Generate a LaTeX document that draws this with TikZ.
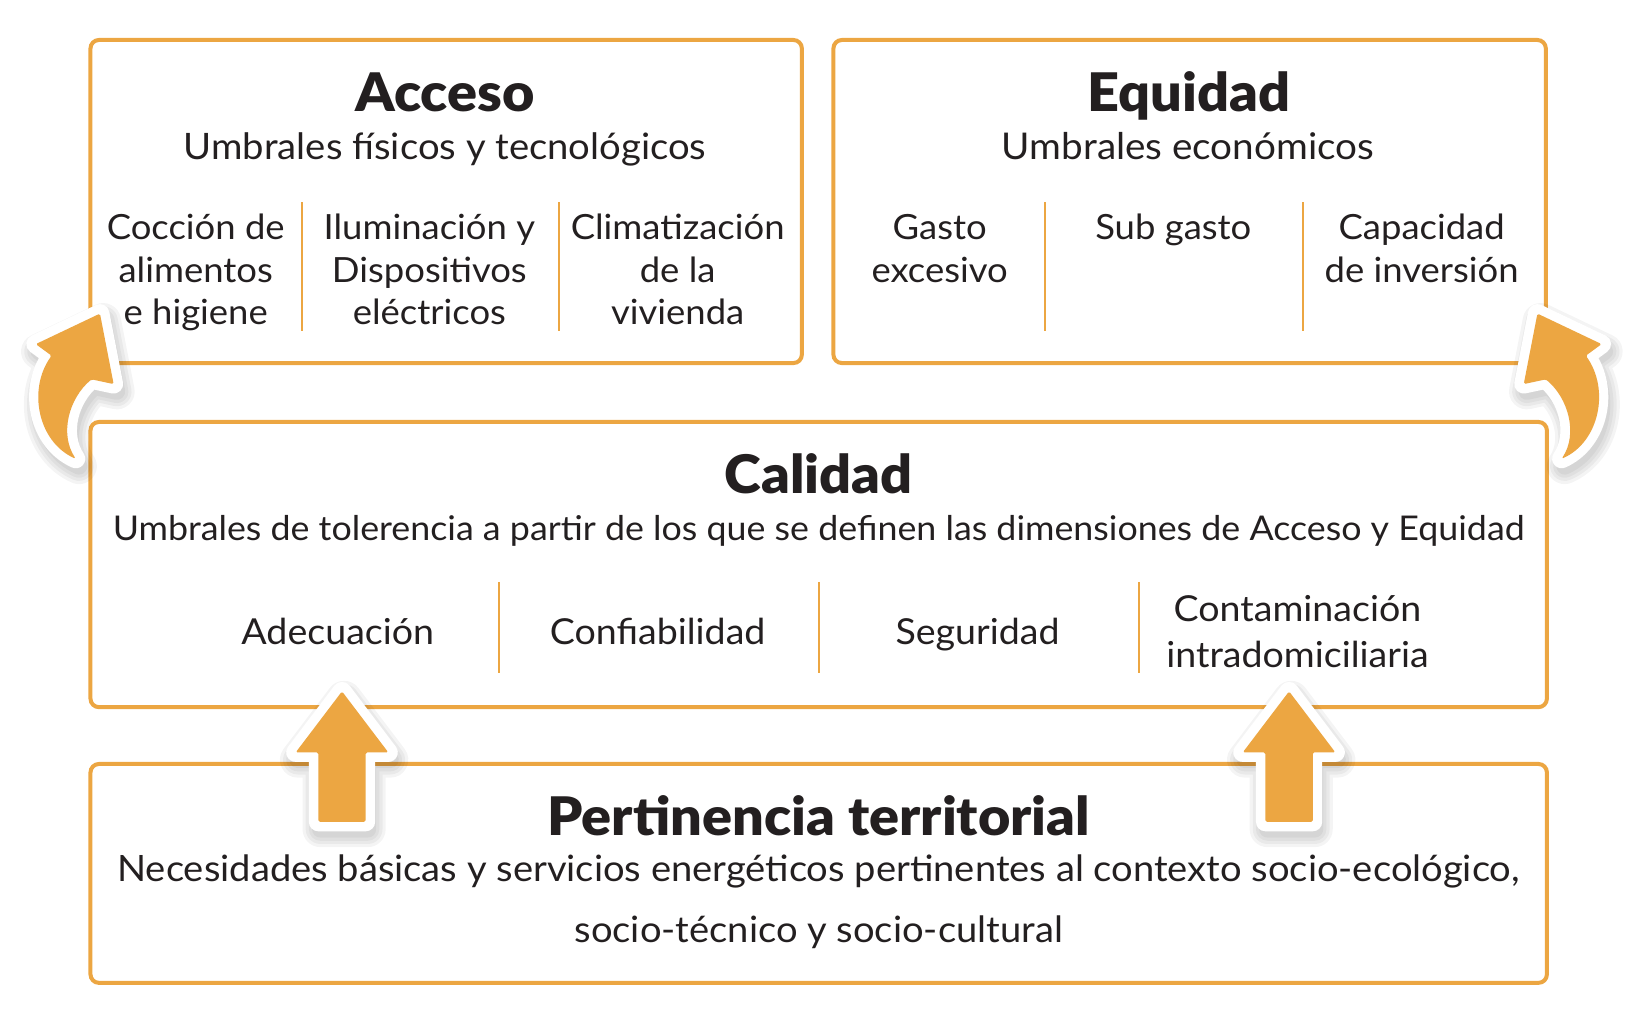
\documentclass[tikz,border=0pt]{standalone}
\usepackage{fontspec}
\setmainfont{Lato}[FakeStretch=1.05]
\newfontfamily\heavyfont{Lato Black}[FakeStretch=1.05]
\definecolor{orng}{RGB}{236,166,66}
\definecolor{ink}{RGB}{35,31,32}
\begin{document}
\begin{tikzpicture}[x=1pt,y=-1pt,
  box/.style={draw=orng, line width=3.8pt, rounded corners=8pt},
  divider/.style={draw=orng, line width=2pt},
  head/.style={font=\heavyfont\fontsize{50.5}{58}\selectfont, text=ink, anchor=base, inner sep=0pt},
  txt/.style={font=\fontsize{#1}{40}\selectfont, text=ink, anchor=base, inner sep=0pt},
  txt/.default=33,
  curvedpath/.style={insert path={(95,298) -- (108,365) -- (87,360.5) .. controls (66,378) and (56,412) .. (72,436) .. controls (36,420) and (26,370) .. (49,338) -- (34,327) -- cycle}},
  straightpath/.style={insert path={(0,657) -- (44,715) -- (22.5,715) -- (22.5,781) -- (-22.5,781) -- (-22.5,715) -- (-44,715) -- cycle}},
  shadowlayer/.style={draw=black, fill=black, opacity=0.045, line join=round, line width=#1},
  whiteborder/.style={draw=white, fill=white, line width=18pt, line join=round},
  orangefill/.style={fill=orng, rounded corners=1.5pt}
]
\useasboundingbox (0,0) rectangle (1568,967.4);

% boxes
\draw[box] (86,38) rectangle (762,345);
\draw[box] (792,38) rectangle (1469,345);
\draw[box] (86,401) rectangle (1470,672);
\draw[box] (86,726) rectangle (1470,934);

% dividers
\draw[divider] (287,192) -- (287,315);
\draw[divider] (531,192) -- (531,315);
\draw[divider] (993,192) -- (993,315);
\draw[divider] (1238,192) -- (1238,315);
\draw[divider] (474,553) -- (474,640);
\draw[divider] (778,553) -- (778,640);
\draw[divider] (1082,553) -- (1082,640);

% curved arrows
\begin{scope}
  \begin{scope}[shift={(3pt,-7pt)}]
    \foreach \w in {34pt,28pt,22pt,16pt} {\path[shadowlayer=\w, curvedpath];}
  \end{scope}
  \path[whiteborder, curvedpath];
  \path[orangefill, curvedpath];
\end{scope}
\begin{scope}[xshift=1556pt, xscale=-1]
  \begin{scope}[shift={(-3pt,-7pt)}]
    \foreach \w in {34pt,28pt,22pt,16pt} {\path[shadowlayer=\w, curvedpath];}
  \end{scope}
  \path[whiteborder, curvedpath];
  \path[orangefill, curvedpath];
\end{scope}

% straight arrows
\foreach \cx in {325,1225} {
  \begin{scope}[xshift=\cx pt]
    \begin{scope}[shift={(2pt,-7pt)}]
      \foreach \w in {34pt,28pt,22pt,16pt} {\path[shadowlayer=\w, straightpath];}
    \end{scope}
    \path[whiteborder, straightpath];
    \path[orangefill, straightpath];
  \end{scope}
}

% Acceso
\node[head] (acc) at (423,106) {Acceso};
\node[txt=34.6] (accsub) at (423,152) {Umbrales físicos y tecnológicos};
\node[txt] (a11) at (186,228) {Cocción de};
\node[txt] (a12) at (186,268) {alimentos};
\node[txt] (a13) at (186,308) {e higiene};
\node[txt] (a21) at (408,228) {Iluminación y};
\node[txt] (a22) at (408,268) {Dispositivos};
\node[txt] (a23) at (408,308) {eléctricos};
\node[txt] (a31) at (644,228) {Climatización};
\node[txt] (a32) at (644,268) {de la};
\node[txt] (a33) at (644,308) {vivienda};

% Equidad
\node[head] (equ) at (1130,106) {Equidad};
\node[txt=35] (equsub) at (1129,152) {Umbrales económicos};
\node[txt] (e11) at (893,228) {Gasto};
\node[txt] (e12) at (893,268) {excesivo};
\node[txt] (e21) at (1115,228) {Sub gasto};
\node[txt] (e31) at (1351,228) {Capacidad};
\node[txt] (e32) at (1351,268) {de inversión};

% Calidad
\node[head] (cal) at (778,469) {Calidad};
\node[txt=32.4] (calsub) at (778,514) {Umbrales de tolerencia a partir de los que se definen las dimensiones de Acceso y Equidad};
\node[txt=34] (c1) at (321,612) {Adecuación};
\node[txt=34] (c2) at (625,612) {Confiabilidad};
\node[txt=34] (c3) at (929,612) {Seguridad};
\node[txt=34] (c41) at (1233,591) {Contaminación};
\node[txt=34] (c42) at (1233,634) {intradomiciliaria};

% Pertinencia
\node[head] (per) at (778,794) {Pertinencia territorial};
\node[txt=34.5] (per1) at (778,838) {Necesidades básicas y servicios energéticos pertinentes al contexto socio-ecológico,};
\node[txt=34.5] (per2) at (778,896) {socio-técnico y socio-cultural};
\end{tikzpicture}
\end{document}
